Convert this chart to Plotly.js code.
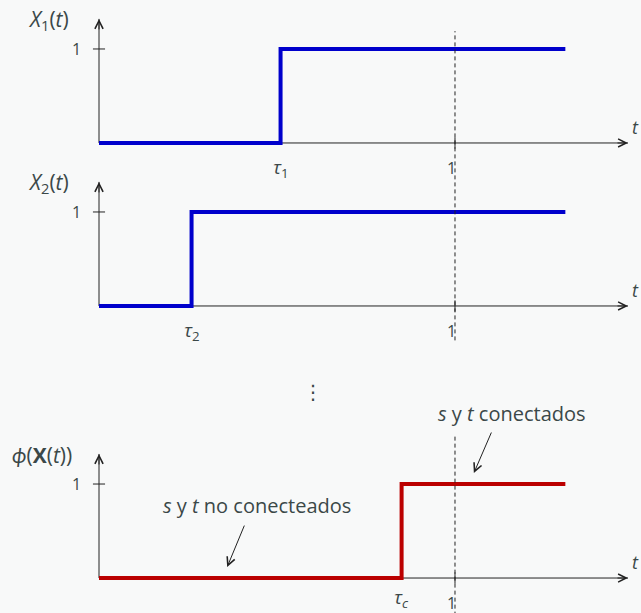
<!DOCTYPE html>
<html>
<head>
<meta charset="utf-8">
<script src="https://cdn.plot.ly/plotly-3.0.1.min.js"></script>
<style>
  html, body { margin: 0; padding: 0; background: #f8f9f9; }
  #chart { width: 641px; height: 613px; }
</style>
</head>
<body>
<div id="chart"></div>
<script>
// Component states X1, X2 and the structure function phi(X(t)) as step functions of t
const tau1 = 0.51;
const tau2 = 0.26;
const tauC = 0.85;
const tEnd = 1.31;

const x1Times = [0, tau1, tEnd];
const x1Values = [0, 1, 1];
const x2Times = [0, tau2, tEnd];
const x2Values = [0, 1, 1];
const phiTimes = [0, tauC, tEnd];
const phiValues = [0, 1, 1];

const panelTitles = [
  '<i>X</i><sub>1</sub>(<i>t</i>)',
  '<i>X</i><sub>2</sub>(<i>t</i>)',
  '<i>ϕ</i>(<b>X</b>(<i>t</i>))'
];
const tauLabels = ['<i>τ</i><sub>1</sub>', '<i>τ</i><sub>2</sub>', '<i>τ</i><sub><i>c</i></sub>'];
const tauValues = [tau1, tau2, tauC];
const noteLabels = ['<i>s</i> y <i>t</i> no conecteados', '<i>s</i> y <i>t</i> conectados'];

const blue = '#0000cc';
const red = '#bb0000';
const ink = '#222222';
const textColor = '#3b4848';
const font = '"Open Sans", Lato, sans-serif';

const yRefs = ['y', 'y2', 'y3'];
const xMax = 1.486;   // end of the t axis arrow
const yTop = 1.32;    // top of each vertical axis arrow

const traces = [
  { x: x1Times, y: x1Values, yaxis: 'y',  color: blue },
  { x: x2Times, y: x2Values, yaxis: 'y2', color: blue },
  { x: phiTimes, y: phiValues, yaxis: 'y3', color: red }
].map(s => ({
  type: 'scatter', mode: 'lines', x: s.x, y: s.y, xaxis: 'x', yaxis: s.yaxis,
  line: { shape: 'hv', color: s.color, width: 4 }, hoverinfo: 'skip', showlegend: false
}));

const shapes = [];
const annotations = [];

yRefs.forEach((yr, i) => {
  // axes lines (below the step curves)
  shapes.push({ type: 'line', layer: 'below', xref: 'x', yref: yr, x0: 0, x1: xMax, y0: 0, y1: 0, line: { color: ink, width: 1 } });
  shapes.push({ type: 'line', layer: 'below', xref: 'x', yref: yr, x0: 0, x1: 0, y0: 0, y1: yTop, line: { color: ink, width: 1 } });
  // tick at y = 1 and at t = 1
  shapes.push({ type: 'line', xref: 'x', yref: yr, x0: -0.017, x1: 0.017, y0: 1, y1: 1, line: { color: ink, width: 1 } });
  shapes.push({ type: 'line', xref: 'x', yref: yr, x0: 1, x1: 1, y0: -0.06, y1: 0.06, line: { color: ink, width: 1 } });

  // arrowheads on both axes
  annotations.push({ xref: 'x', yref: yr, x: xMax, y: 0, ax: -12, ay: 0, text: '', showarrow: true,
    arrowhead: 5, arrowsize: 1.6, arrowwidth: 1, arrowcolor: ink, standoff: 0 });
  annotations.push({ xref: 'x', yref: yr, x: 0, y: yTop, ax: 0, ay: 12, text: '', showarrow: true,
    arrowhead: 5, arrowsize: 1.6, arrowwidth: 1, arrowcolor: ink, standoff: 0 });

  // labels
  annotations.push({ xref: 'x', yref: yr, x: i === 2 ? -0.161 : -0.143, y: 1.31, text: panelTitles[i], showarrow: false,
    font: { family: font, size: 21, color: textColor }, xanchor: 'center', yanchor: 'middle' });
  annotations.push({ xref: 'x', yref: yr, x: -0.062, y: 1, text: '1', showarrow: false,
    font: { family: font, size: 16, color: textColor }, xanchor: 'center', yanchor: 'middle' });
  annotations.push({ xref: 'x', yref: yr, x: 1, y: -0.27, xshift: -3, text: '1', showarrow: false,
    font: { family: font, size: 16, color: textColor }, xanchor: 'center', yanchor: 'middle' });
  annotations.push({ xref: 'x', yref: yr, x: tauValues[i], y: i === 2 ? -0.21 : -0.27, text: tauLabels[i], showarrow: false,
    font: { family: font, size: 19, color: textColor }, xanchor: 'center', yanchor: 'middle' });
  annotations.push({ xref: 'x', yref: yr, x: 1.507, y: 0.17, text: '<i>t</i>', showarrow: false,
    font: { family: font, size: 18, color: textColor }, xanchor: 'center', yanchor: 'middle' });
});

// dashed reference line at t = 1
shapes.push({ type: 'line', xref: 'x', yref: 'y', x0: 1, x1: 1, y0: -2.1, y1: 1.19, line: { color: ink, width: 1, dash: '4px,3px' } });
shapes.push({ type: 'line', xref: 'x', yref: 'y3', x0: 1, x1: 1, y0: -0.4, y1: 1.52, line: { color: ink, width: 1, dash: '4px,3px' } });

// vertical ellipsis between the component panels and phi
annotations.push({ xref: 'x', yref: 'y2', x: 0.601, y: -0.92, text: '⋮', showarrow: false,
  font: { family: 'DejaVu Sans', size: 20, color: textColor }, xanchor: 'center', yanchor: 'middle' });

// notes on the phi panel
const noteFont = { family: font, size: 20, color: textColor };
annotations.push({ xref: 'x', yref: 'y3', x: 0.444, y: 0.77, text: noteLabels[0], showarrow: false, font: noteFont, xanchor: 'center', yanchor: 'middle' });
annotations.push({ xref: 'x', yref: 'y3', x: 0.36, y: 0.117, axref: 'x', ayref: 'y3', ax: 0.41, ay: 0.574, text: '', showarrow: true,
  arrowhead: 5, arrowsize: 1.6, arrowwidth: 1, arrowcolor: ink, standoff: 0 });
annotations.push({ xref: 'x', yref: 'y3', x: 1.16, y: 1.755, text: noteLabels[1], showarrow: false, font: noteFont, xanchor: 'center', yanchor: 'middle' });
annotations.push({ xref: 'x', yref: 'y3', x: 1.053, y: 1.117, axref: 'x', ayref: 'y3', ax: 1.104, ay: 1.564, text: '', showarrow: true,
  arrowhead: 5, arrowsize: 1.6, arrowwidth: 1, arrowcolor: ink, standoff: 0 });

const hidden = { visible: false, fixedrange: true };
const layout = {
  width: 641, height: 613,
  margin: { l: 0, r: 0, t: 0, b: 0 },
  paper_bgcolor: '#f8f9f9', plot_bgcolor: '#f8f9f9',
  showlegend: false,
  xaxis: Object.assign({ range: [-0.2781, 1.5225], domain: [0, 1] }, hidden),
  yaxis: Object.assign({ range: [-5.0, 1.521], domain: [0, 1] }, hidden),
  yaxis2: Object.assign({ range: [-3.266, 3.255], overlaying: 'y' }, hidden),
  yaxis3: Object.assign({ range: [-0.372, 6.149], overlaying: 'y' }, hidden),
  shapes: shapes,
  annotations: annotations
};

Plotly.newPlot('chart', traces, layout, { displayModeBar: false, staticPlot: true });
</script>
</body>
</html>
